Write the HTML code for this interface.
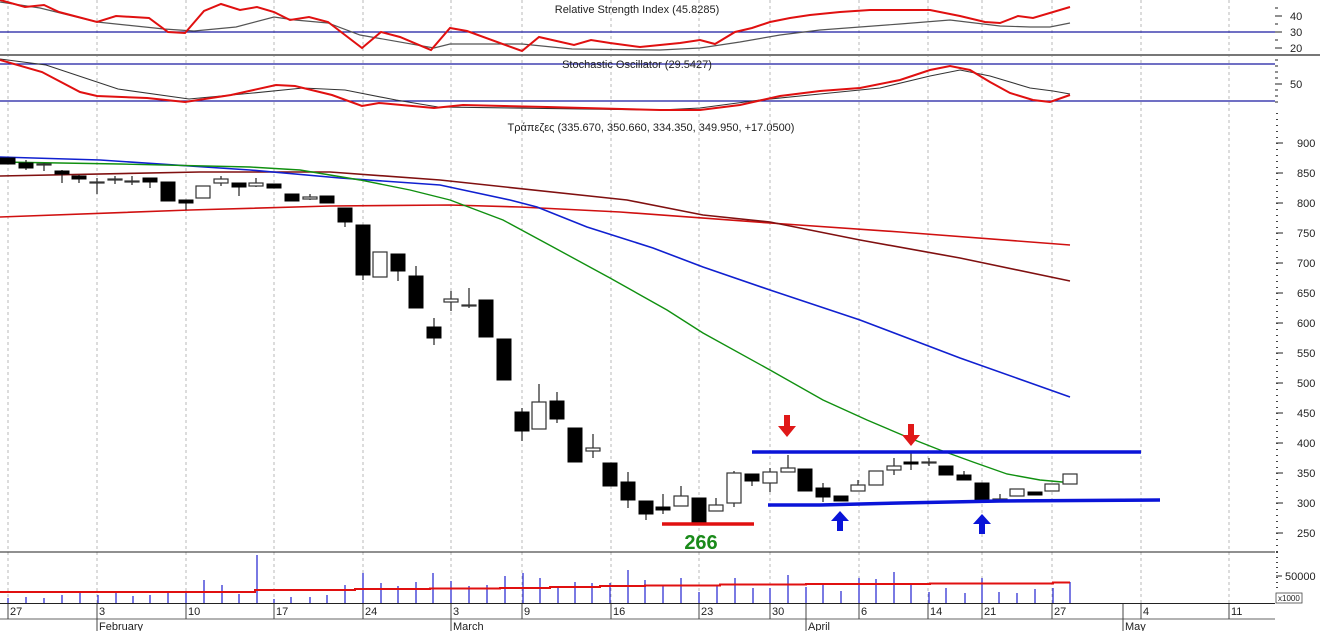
<!DOCTYPE html>
<html><head><meta charset="utf-8"><style>
html,body{margin:0;padding:0;background:#fff}
svg{display:block;font-family:"Liberation Sans",Arial,sans-serif}
</style></head><body>
<svg width="1320" height="631" viewBox="0 0 1320 631" xmlns="http://www.w3.org/2000/svg">
<rect width="1320" height="631" fill="#fff"/>
<!-- grid -->
<g stroke="#b8b8b8" stroke-dasharray="3,3" stroke-width="1">
<line x1="8" y1="0" x2="8" y2="603"/><line x1="97" y1="0" x2="97" y2="603"/><line x1="186" y1="0" x2="186" y2="603"/><line x1="274" y1="0" x2="274" y2="603"/><line x1="363" y1="0" x2="363" y2="603"/><line x1="451" y1="0" x2="451" y2="603"/><line x1="522" y1="0" x2="522" y2="603"/><line x1="611" y1="0" x2="611" y2="603"/><line x1="699" y1="0" x2="699" y2="603"/><line x1="770" y1="0" x2="770" y2="603"/><line x1="859" y1="0" x2="859" y2="603"/><line x1="928" y1="0" x2="928" y2="603"/><line x1="982" y1="0" x2="982" y2="603"/><line x1="1052" y1="0" x2="1052" y2="603"/><line x1="1141" y1="0" x2="1141" y2="603"/><line x1="1229" y1="0" x2="1229" y2="603"/>
</g>
<!-- panel separators -->
<line x1="0" y1="55" x2="1320" y2="55" stroke="#777" stroke-width="2"/>
<line x1="0" y1="552" x2="1275" y2="552" stroke="#222" stroke-width="1"/>
<line x1="0" y1="603.5" x2="1275" y2="603.5" stroke="#222" stroke-width="1"/>
<line x1="0" y1="619" x2="1275" y2="619" stroke="#666" stroke-width="1"/>
<!-- RSI -->
<line x1="0" y1="32" x2="1275" y2="32" stroke="#1a1aa0" stroke-width="1.2"/>
<text x="637" y="13" font-size="11" text-anchor="middle" fill="#222">Relative Strength Index (45.8285)</text>
<polyline fill="none" stroke="#555" stroke-width="1.2" points="0,2 40,8 97,22 164,29 194,31 236,27 274,17 295,20 328,23 360,35 434,48 450,44 522,44 572,49 660,50 700,48 740,42 780,35 820,30 900,24 950,20 1000,26 1030,27 1050,27 1070,23"/>
<polyline fill="none" stroke="#e01010" stroke-width="2" points="0,0 25,7 44,5 59,12 97,22 116,16 149,18 168,32 185,33 204,11 221,4 240,10 257,7 274,12 290,20 309,17 328,22 362,48 381,32 400,37 431,50 450,28 467,31 522,51 539,37 574,45 591,40 610,43 640,47 660,45 680,43 700,40 715,44 735,32 752,28 770,22 790,18 810,15 840,12 870,10 900,10 930,10 960,16 985,22 1000,23 1018,16 1033,18 1070,7"/>
<g font-size="11" fill="#222"><text x="1290" y="20">40</text><text x="1290" y="36">30</text><text x="1290" y="52">20</text><text x="1290" y="88">50</text></g>
<g stroke="#222"><line x1="1275" y1="16" x2="1282" y2="16"/><line x1="1275" y1="32" x2="1282" y2="32"/><line x1="1275" y1="48" x2="1282" y2="48"/><line x1="1275" y1="8" x2="1278" y2="8"/><line x1="1275" y1="24" x2="1278" y2="24"/><line x1="1275" y1="40" x2="1278" y2="40"/><line x1="1275" y1="84" x2="1282" y2="84"/><line x1="1275" y1="60" x2="1278" y2="60"/><line x1="1275" y1="66" x2="1278" y2="66"/><line x1="1275" y1="72" x2="1278" y2="72"/><line x1="1275" y1="78" x2="1278" y2="78"/><line x1="1275" y1="90" x2="1278" y2="90"/><line x1="1275" y1="96" x2="1278" y2="96"/><line x1="1275" y1="102" x2="1278" y2="102"/></g>
<!-- Stochastic -->
<line x1="0" y1="64" x2="1275" y2="64" stroke="#1a1aa0" stroke-width="1.2"/>
<line x1="0" y1="101" x2="1275" y2="101" stroke="#1a1aa0" stroke-width="1.2"/>
<text x="637" y="68" font-size="11" text-anchor="middle" fill="#222">Stochastic Oscillator (29.5427)</text>
<polyline fill="none" stroke="#333" stroke-width="1.1" points="0,59 46,65 118,89 189,99 253,93 303,88 345,90 396,100 438,107 660,110 700,108 760,100 820,94 880,88 930,76 960,70 990,76 1030,88 1053,91 1070,94"/>
<polyline fill="none" stroke="#e01010" stroke-width="2" points="0,60 42,72 80,92 97,96 147,98 185,102 231,95 276,85 295,86 332,95 362,106 379,103 434,108 463,105 547,107 660,110 700,110 740,105 780,96 820,91 860,88 900,80 930,70 950,66 970,70 990,82 1010,93 1033,100 1050,102 1070,95"/>
<!-- main title -->
<text x="651" y="131" font-size="11" text-anchor="middle" fill="#222">Τράπεζες (335.670, 350.660, 334.350, 349.950, +17.0500)</text>
<!-- price axis -->
<g font-size="11" fill="#222">
<text x="1297" y="147">900</text><text x="1297" y="177">850</text><text x="1297" y="207">800</text><text x="1297" y="237">750</text><text x="1297" y="267">700</text><text x="1297" y="297">650</text><text x="1297" y="327">600</text><text x="1297" y="357">550</text><text x="1297" y="387">500</text><text x="1297" y="417">450</text><text x="1297" y="447">400</text><text x="1297" y="477">350</text><text x="1297" y="507">300</text><text x="1297" y="537">250</text>
</g>
<g stroke="#222">
<line x1="1276" y1="143" x2="1283" y2="143"/><line x1="1276" y1="173" x2="1283" y2="173"/><line x1="1276" y1="203" x2="1283" y2="203"/><line x1="1276" y1="233" x2="1283" y2="233"/><line x1="1276" y1="263" x2="1283" y2="263"/><line x1="1276" y1="293" x2="1283" y2="293"/><line x1="1276" y1="323" x2="1283" y2="323"/><line x1="1276" y1="353" x2="1283" y2="353"/><line x1="1276" y1="383" x2="1283" y2="383"/><line x1="1276" y1="413" x2="1283" y2="413"/><line x1="1276" y1="443" x2="1283" y2="443"/><line x1="1276" y1="473" x2="1283" y2="473"/><line x1="1276" y1="503" x2="1283" y2="503"/><line x1="1276" y1="533" x2="1283" y2="533"/>
</g>
<line x1="1277" y1="113" x2="1277" y2="552" stroke="#444" stroke-width="2" stroke-dasharray="1,5"/>
<!-- moving averages -->
<polyline fill="none" stroke="#d01010" stroke-width="1.6" points="0,217 190,210 330,206 450,205 520,207 620,212 770,223 900,232 1070,245"/>
<polyline fill="none" stroke="#801010" stroke-width="1.6" points="0,176 200,172 330,172 440,180 627,200 703,215 770,222 860,240 960,258 1070,281"/>
<polyline fill="none" stroke="#1020d0" stroke-width="1.6" points="0,157 100,160 250,170 340,178 440,185 510,200 537,207 587,227 653,248 703,267 770,290 860,320 960,358 1070,397"/>
<polyline fill="none" stroke="#109010" stroke-width="1.4" points="0,162 120,164 250,167 300,170 360,180 410,190 450,200 503,220 553,247 610,278 667,310 703,333 770,370 823,400 867,420 907,437 940,450 973,462 1007,474 1040,480 1073,483"/>
<!-- candles -->
<g stroke="#222" stroke-width="1.2">
<line x1="26" y1="160" x2="26" y2="170"/><line x1="44" y1="163" x2="44" y2="171"/><line x1="62" y1="170" x2="62" y2="183"/><line x1="79" y1="175" x2="79" y2="183"/><line x1="97" y1="178" x2="97" y2="194"/><line x1="115" y1="176" x2="115" y2="184"/><line x1="132" y1="176" x2="132" y2="185"/><line x1="150" y1="178" x2="150" y2="188"/><line x1="186" y1="200" x2="186" y2="210"/><line x1="221" y1="176" x2="221" y2="186"/><line x1="239" y1="183" x2="239" y2="196"/><line x1="256" y1="178" x2="256" y2="187"/><line x1="310" y1="194" x2="310" y2="200"/><line x1="345" y1="208" x2="345" y2="227"/><line x1="363" y1="225" x2="363" y2="280"/><line x1="398" y1="254" x2="398" y2="281"/><line x1="416" y1="266" x2="416" y2="308"/><line x1="434" y1="318" x2="434" y2="345"/><line x1="451" y1="291" x2="451" y2="311"/><line x1="469" y1="288" x2="469" y2="308"/><line x1="522" y1="408" x2="522" y2="441"/><line x1="539" y1="384" x2="539" y2="429"/><line x1="557" y1="392" x2="557" y2="423"/><line x1="593" y1="434" x2="593" y2="458"/><line x1="628" y1="472" x2="628" y2="508"/><line x1="646" y1="501" x2="646" y2="520"/><line x1="663" y1="494" x2="663" y2="514"/><line x1="681" y1="486" x2="681" y2="506"/><line x1="716" y1="498" x2="716" y2="511"/><line x1="734" y1="471" x2="734" y2="507"/><line x1="752" y1="474" x2="752" y2="486"/><line x1="770" y1="468" x2="770" y2="492"/><line x1="788" y1="455" x2="788" y2="472"/><line x1="823" y1="483" x2="823" y2="502"/><line x1="858" y1="480" x2="858" y2="491"/><line x1="894" y1="458" x2="894" y2="475"/><line x1="911" y1="452" x2="911" y2="470"/><line x1="929" y1="458" x2="929" y2="466"/><line x1="964" y1="471" x2="964" y2="480"/><line x1="1000" y1="494" x2="1000" y2="501"/>
</g>
<g fill="#000" stroke="#000" stroke-width="1">
<rect x="0" y="158" width="15" height="6"/><rect x="19" y="163" width="14" height="5"/><rect x="55" y="171" width="14" height="3"/><rect x="72" y="176" width="14" height="3"/><rect x="143" y="178" width="14" height="4"/><rect x="161" y="182" width="14" height="19"/><rect x="179" y="200" width="14" height="3"/><rect x="232" y="183" width="14" height="4"/><rect x="267" y="184" width="14" height="4"/><rect x="285" y="194" width="14" height="7"/><rect x="320" y="196" width="14" height="7"/><rect x="338" y="208" width="14" height="14"/><rect x="356" y="225" width="14" height="50"/><rect x="391" y="254" width="14" height="17"/><rect x="409" y="276" width="14" height="32"/><rect x="427" y="327" width="14" height="11"/><rect x="479" y="300" width="14" height="37"/><rect x="497" y="339" width="14" height="41"/><rect x="515" y="412" width="14" height="19"/><rect x="550" y="401" width="14" height="18"/><rect x="568" y="428" width="14" height="34"/><rect x="603" y="463" width="14" height="23"/><rect x="621" y="482" width="14" height="18"/><rect x="639" y="501" width="14" height="13"/><rect x="656" y="507" width="14" height="3"/><rect x="692" y="498" width="14" height="25"/><rect x="745" y="474" width="14" height="7"/><rect x="798" y="469" width="14" height="22"/><rect x="816" y="488" width="14" height="9"/><rect x="834" y="496" width="14" height="5"/><rect x="904" y="462" width="14" height="2"/><rect x="939" y="466" width="14" height="9"/><rect x="957" y="475" width="14" height="5"/><rect x="975" y="483" width="14" height="17"/><rect x="1028" y="492" width="14" height="3"/>
</g>
<g fill="#fff" stroke="#333" stroke-width="1.2">
<rect x="37" y="164" width="14" height="1"/><rect x="90" y="182" width="14" height="1"/><rect x="108" y="179" width="14" height="1"/><rect x="125" y="181" width="14" height="1"/><rect x="196" y="186" width="14" height="12"/><rect x="214" y="179" width="14" height="4"/><rect x="249" y="183" width="14" height="3"/><rect x="303" y="197" width="14" height="2"/><rect x="373" y="252" width="14" height="25"/><rect x="444" y="299" width="14" height="3"/><rect x="462" y="305" width="14" height="1"/><rect x="532" y="402" width="14" height="27"/><rect x="586" y="448" width="14" height="3"/><rect x="674" y="496" width="14" height="10"/><rect x="709" y="505" width="14" height="6"/><rect x="727" y="473" width="14" height="30"/><rect x="763" y="472" width="14" height="11"/><rect x="781" y="468" width="14" height="4"/><rect x="851" y="485" width="14" height="6"/><rect x="869" y="471" width="14" height="14"/><rect x="887" y="466" width="14" height="4"/><rect x="922" y="462" width="14" height="1"/><rect x="993" y="499" width="14" height="1"/><rect x="1010" y="489" width="14" height="7"/><rect x="1045" y="484" width="14" height="7"/><rect x="1063" y="474" width="14" height="10"/>
</g>
<!-- annotations -->
<line x1="752" y1="452" x2="1141" y2="452" stroke="#0a14d8" stroke-width="3.5"/>
<polyline fill="none" stroke="#0a14d8" stroke-width="3.5" points="768,505 820,505 900,503 1000,501 1160,500"/>
<line x1="662" y1="524" x2="754" y2="524" stroke="#e01010" stroke-width="3.5"/>
<text x="701" y="549" font-size="20" font-weight="bold" text-anchor="middle" fill="#1a8a1a">266</text>
<g fill="#e01818">
<polygon points="784,415 790,415 790,426 796,426 787,437 778,426 784,426"/>
<polygon points="908,424 914,424 914,435 920,435 911,446 902,435 908,435"/>
</g>
<g fill="#0a14d8">
<polygon points="840,511 849,521 843,521 843,531 837,531 837,521 831,521"/>
<polygon points="982,514 991,524 985,524 985,534 979,534 979,524 973,524"/>
</g>
<!-- volume -->
<g stroke="#2020d0" stroke-width="1.2">
<line x1="8" y1="603" x2="8" y2="598"/><line x1="26" y1="603" x2="26" y2="597"/><line x1="44" y1="603" x2="44" y2="598"/><line x1="62" y1="603" x2="62" y2="595"/><line x1="80" y1="603" x2="80" y2="593"/><line x1="98" y1="603" x2="98" y2="595"/><line x1="116" y1="603" x2="116" y2="593"/><line x1="133" y1="603" x2="133" y2="596"/><line x1="150" y1="603" x2="150" y2="595"/><line x1="168" y1="603" x2="168" y2="593"/><line x1="186" y1="603" x2="186" y2="592"/><line x1="204" y1="603" x2="204" y2="580"/><line x1="222" y1="603" x2="222" y2="585"/><line x1="239" y1="603" x2="239" y2="594"/><line x1="257" y1="603" x2="257" y2="555"/><line x1="274" y1="603" x2="274" y2="599"/><line x1="291" y1="603" x2="291" y2="597"/><line x1="310" y1="603" x2="310" y2="597"/><line x1="327" y1="603" x2="327" y2="595"/><line x1="345" y1="603" x2="345" y2="585"/><line x1="363" y1="603" x2="363" y2="573"/><line x1="381" y1="603" x2="381" y2="583"/><line x1="398" y1="603" x2="398" y2="586"/><line x1="416" y1="603" x2="416" y2="582"/><line x1="433" y1="603" x2="433" y2="573"/><line x1="451" y1="603" x2="451" y2="581"/><line x1="469" y1="603" x2="469" y2="586"/><line x1="487" y1="603" x2="487" y2="585"/><line x1="505" y1="603" x2="505" y2="576"/><line x1="523" y1="603" x2="523" y2="573"/><line x1="540" y1="603" x2="540" y2="578"/><line x1="558" y1="603" x2="558" y2="587"/><line x1="575" y1="603" x2="575" y2="582"/><line x1="592" y1="603" x2="592" y2="583"/><line x1="610" y1="603" x2="610" y2="583"/><line x1="628" y1="603" x2="628" y2="570"/><line x1="645" y1="603" x2="645" y2="580"/><line x1="663" y1="603" x2="663" y2="585"/><line x1="681" y1="603" x2="681" y2="578"/><line x1="699" y1="603" x2="699" y2="592"/><line x1="717" y1="603" x2="717" y2="586"/><line x1="735" y1="603" x2="735" y2="578"/><line x1="753" y1="603" x2="753" y2="588"/><line x1="770" y1="603" x2="770" y2="588"/><line x1="788" y1="603" x2="788" y2="575"/><line x1="806" y1="603" x2="806" y2="587"/><line x1="823" y1="603" x2="823" y2="583"/><line x1="841" y1="603" x2="841" y2="591"/><line x1="859" y1="603" x2="859" y2="578"/><line x1="876" y1="603" x2="876" y2="579"/><line x1="894" y1="603" x2="894" y2="572"/><line x1="911" y1="603" x2="911" y2="583"/><line x1="929" y1="603" x2="929" y2="592"/><line x1="946" y1="603" x2="946" y2="588"/><line x1="965" y1="603" x2="965" y2="593"/><line x1="982" y1="603" x2="982" y2="578"/><line x1="999" y1="603" x2="999" y2="592"/><line x1="1017" y1="603" x2="1017" y2="593"/><line x1="1035" y1="603" x2="1035" y2="589"/><line x1="1053" y1="603" x2="1053" y2="588"/><line x1="1070" y1="603" x2="1070" y2="582"/>
</g>
<polyline fill="none" stroke="#e01010" stroke-width="2" points="0,592 255,592 255,590 355,590 355,589 430,589 430,588.5 500,588.5 500,588 550,588 550,587 600,587 600,586 645,586 645,585.5 720,585.5 720,584.5 806,584.5 806,584 930,584 930,583.5 1053,583.5 1053,582.5 1070,582.5"/>
<text x="1285" y="580" font-size="11" fill="#222">50000</text>
<line x1="1276" y1="576" x2="1282" y2="576" stroke="#222"/>
<line x1="1277" y1="552" x2="1277" y2="592" stroke="#444" stroke-width="2" stroke-dasharray="1,4"/>
<rect x="1276" y="593" width="26" height="10" fill="#fff" stroke="#444" stroke-width="0.8"/>
<text x="1278" y="601" font-size="8" fill="#222">x1000</text>
<!-- date axis -->
<g stroke="#444" stroke-width="1">
<line x1="8" y1="604" x2="8" y2="619"/><line x1="97" y1="604" x2="97" y2="631"/><line x1="186" y1="604" x2="186" y2="619"/><line x1="274" y1="604" x2="274" y2="619"/><line x1="363" y1="604" x2="363" y2="619"/><line x1="451" y1="604" x2="451" y2="631"/><line x1="522" y1="604" x2="522" y2="619"/><line x1="611" y1="604" x2="611" y2="619"/><line x1="699" y1="604" x2="699" y2="619"/><line x1="770" y1="604" x2="770" y2="619"/><line x1="806" y1="604" x2="806" y2="631"/><line x1="859" y1="604" x2="859" y2="619"/><line x1="928" y1="604" x2="928" y2="619"/><line x1="982" y1="604" x2="982" y2="619"/><line x1="1052" y1="604" x2="1052" y2="619"/><line x1="1123" y1="604" x2="1123" y2="631"/><line x1="1141" y1="604" x2="1141" y2="619"/><line x1="1229" y1="604" x2="1229" y2="619"/>
</g>
<g font-size="11" fill="#222">
<text x="10" y="615">27</text><text x="99" y="615">3</text><text x="188" y="615">10</text><text x="276" y="615">17</text><text x="365" y="615">24</text><text x="453" y="615">3</text><text x="524" y="615">9</text><text x="613" y="615">16</text><text x="701" y="615">23</text><text x="772" y="615">30</text><text x="861" y="615">6</text><text x="930" y="615">14</text><text x="984" y="615">21</text><text x="1054" y="615">27</text><text x="1143" y="615">4</text><text x="1231" y="615">11</text>
<text x="99" y="630">February</text><text x="453" y="630">March</text><text x="808" y="630">April</text><text x="1125" y="630">May</text>
</g>
</svg>
</body></html>
